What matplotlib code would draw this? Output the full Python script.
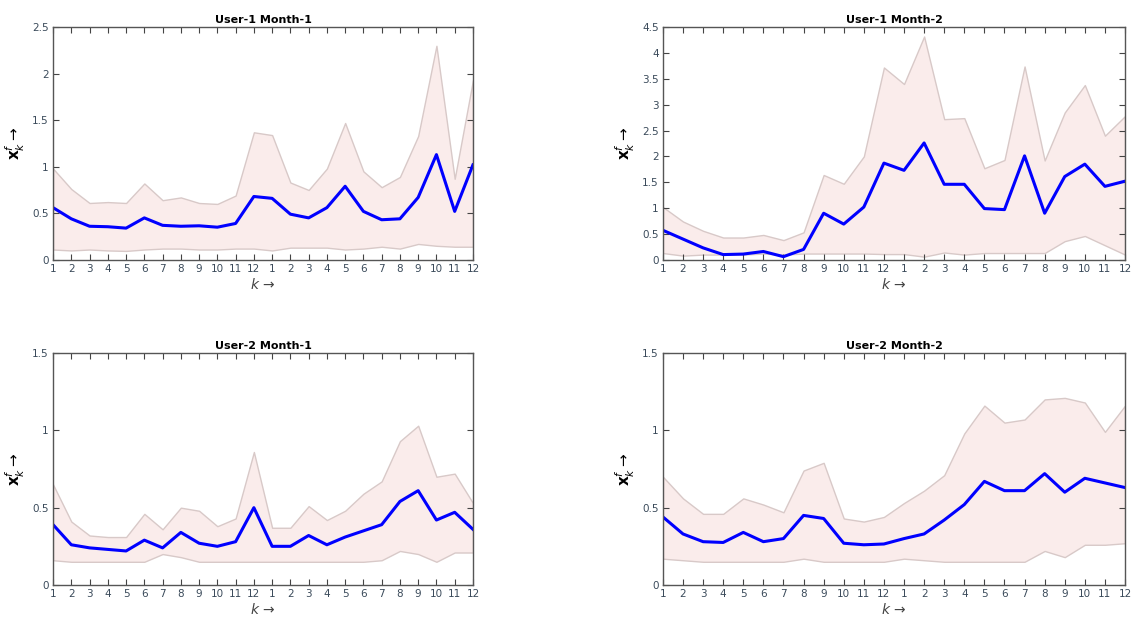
import matplotlib
matplotlib.use("Agg")
import matplotlib.pyplot as plt
import numpy as np

months = [str(m) for m in range(1, 13)] * 2
k = np.arange(1, 25)

titles = ["User-1 Month-1", "User-1 Month-2", "User-2 Month-1", "User-2 Month-2"]

u1m1_mean = [0.56, 0.44, 0.36, 0.355, 0.34, 0.45, 0.37, 0.36, 0.365, 0.35, 0.39, 0.68,
             0.66, 0.49, 0.45, 0.56, 0.79, 0.52, 0.43, 0.44, 0.67, 1.13, 0.52, 1.02]
u1m1_up = [0.98, 0.76, 0.61, 0.62, 0.61, 0.82, 0.64, 0.67, 0.61, 0.60, 0.69, 1.37,
           1.34, 0.83, 0.75, 0.98, 1.47, 0.95, 0.78, 0.89, 1.33, 2.30, 0.87, 1.93]
u1m1_lo = [0.11, 0.10, 0.11, 0.10, 0.095, 0.11, 0.12, 0.12, 0.11, 0.11, 0.12, 0.12,
           0.10, 0.13, 0.13, 0.13, 0.11, 0.12, 0.14, 0.12, 0.17, 0.15, 0.14, 0.14]

u1m2_mean = [0.57, 0.40, 0.23, 0.10, 0.11, 0.16, 0.06, 0.20, 0.90, 0.69, 1.02, 1.87,
             1.73, 2.26, 1.46, 1.46, 0.99, 0.97, 2.01, 0.90, 1.61, 1.85, 1.42, 1.52]
u1m2_up = [1.02, 0.74, 0.56, 0.43, 0.43, 0.48, 0.38, 0.53, 1.64, 1.47, 2.00, 3.72,
           3.40, 4.32, 2.72, 2.74, 1.77, 1.93, 3.74, 1.92, 2.85, 3.38, 2.40, 2.78]
u1m2_lo = [0.13, 0.08, 0.10, 0.10, 0.10, 0.12, 0.10, 0.12, 0.12, 0.12, 0.12, 0.11,
           0.11, 0.06, 0.14, 0.10, 0.13, 0.13, 0.13, 0.13, 0.36, 0.46, 0.28, 0.10]

u2m1_mean = [0.39, 0.26, 0.24, 0.23, 0.22, 0.29, 0.24, 0.34, 0.27, 0.25, 0.28, 0.50,
             0.25, 0.25, 0.32, 0.26, 0.31, 0.35, 0.39, 0.54, 0.61, 0.42, 0.47, 0.36]
u2m1_up = [0.65, 0.41, 0.32, 0.31, 0.31, 0.46, 0.36, 0.50, 0.48, 0.38, 0.43, 0.86,
           0.37, 0.37, 0.51, 0.42, 0.48, 0.59, 0.67, 0.93, 1.03, 0.70, 0.72, 0.53]
u2m1_lo = [0.16, 0.15, 0.15, 0.15, 0.15, 0.15, 0.20, 0.18, 0.15, 0.15, 0.15, 0.15,
           0.15, 0.15, 0.15, 0.15, 0.15, 0.15, 0.16, 0.22, 0.20, 0.15, 0.21, 0.21]

u2m2_mean = [0.44, 0.33, 0.28, 0.275, 0.34, 0.28, 0.30, 0.45, 0.43, 0.27, 0.26, 0.265,
             0.30, 0.33, 0.42, 0.52, 0.67, 0.61, 0.61, 0.72, 0.60, 0.69, 0.66, 0.63]
u2m2_up = [0.70, 0.56, 0.46, 0.46, 0.56, 0.52, 0.47, 0.74, 0.79, 0.43, 0.41, 0.44,
           0.53, 0.61, 0.71, 0.98, 1.16, 1.05, 1.07, 1.20, 1.21, 1.18, 0.99, 1.16]
u2m2_lo = [0.17, 0.16, 0.15, 0.15, 0.15, 0.15, 0.15, 0.17, 0.15, 0.15, 0.15, 0.15,
           0.17, 0.16, 0.15, 0.15, 0.15, 0.15, 0.15, 0.22, 0.18, 0.26, 0.26, 0.27]

means = [u1m1_mean, u1m2_mean, u2m1_mean, u2m2_mean]
uppers = [u1m1_up, u1m2_up, u2m1_up, u2m2_up]
lowers = [u1m1_lo, u1m2_lo, u2m1_lo, u2m2_lo]
ymaxs = [2.5, 4.5, 1.5, 1.5]
ysteps = [0.5, 0.5, 0.5, 0.5]

fig = plt.figure(figsize=(11.41, 6.32), dpi=100)
positions = [
    [0.0465, 0.589, 0.368, 0.368],
    [0.581, 0.589, 0.405, 0.368],
    [0.0465, 0.0744, 0.368, 0.367],
    [0.581, 0.0744, 0.405, 0.367],
]
tick_color = "#3a4a5a"
for i in range(4):
    ax = fig.add_axes(positions[i])
    ax.fill_between(k, lowers[i], uppers[i], facecolor="#faeceb", edgecolor="#d8c9c8",
                    linewidth=1.0)
    ax.plot(k, means[i], color="#0000ff", linewidth=2.2)
    ax.set_xlim(1, 24)
    ax.set_ylim(0, ymaxs[i])
    ax.set_xticks(k)
    ax.set_xticklabels(months)
    yt = np.arange(0, ymaxs[i] + 1e-9, ysteps[i])
    ax.set_yticks(yt)
    ax.set_yticklabels([("%g" % v) for v in yt])
    ax.tick_params(direction="in", top=True, right=True, length=4, width=0.8,
                   labelsize=7.5, colors="#444444", labelcolor=tick_color, pad=3)
    for s in ax.spines.values():
        s.set_color("#555555")
        s.set_linewidth(1.0)
    ax.set_title(titles[i], fontsize=8, fontweight="bold", pad=3)
    ax.set_xlabel(r"$k\,\rightarrow$", fontsize=10, color="#444444", labelpad=2)
    ax.set_ylabel(r"$\mathbf{x}_k^f\rightarrow$", fontsize=11, labelpad=4)

fig.savefig("out.png", dpi=100)
